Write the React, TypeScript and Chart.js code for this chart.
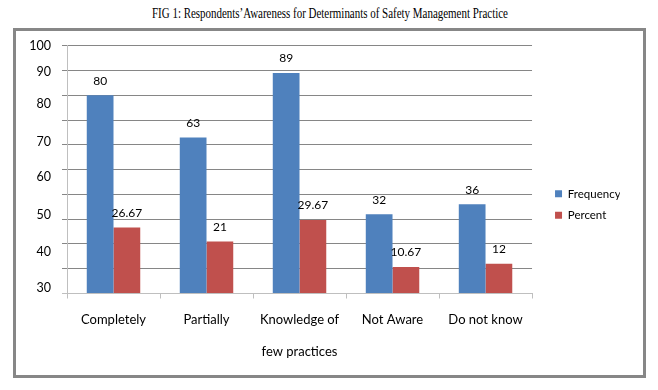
import React, { useEffect, useRef } from 'react';
import { Chart, registerables } from 'chart.js';

Chart.register(...registerables);

const categories: (string | string[])[] = ['Completely', 'Partially', ['Knowledge of', 'few practices'], 'Not Aware', 'Do not know'];
const seriesNames = ['Frequency', 'Percent'];
const frequency = [80, 63, 89, 32, 36];
const percent = [26.67, 21, 29.67, 10.67, 12];
const yTickLabels = ['100', '90', '80', '70', '60', '50', '40', '30'];
const yTickLabelValues = [100, 89.5, 76.5, 61.3, 47.2, 31.7, 16.9, 2.2];
const titleText = 'FIG 1: Respondents\u2019Awareness for Determinants of Safety Management Practice';

const FONT = 'Lato';

const valueLabels = {
  id: 'valueLabels',
  afterDatasetsDraw(chart: any) {
    const ctx = chart.ctx;
    ctx.save();
    ctx.font = `12px ${FONT}`;
    ctx.fillStyle = '#000';
    ctx.textAlign = 'center';
    ctx.textBaseline = 'middle';
    chart.data.datasets.forEach((ds: any, i: number) => {
      const meta = chart.getDatasetMeta(i);
      meta.data.forEach((bar: any, j: number) => {
        ctx.fillText(String(ds.data[j]), bar.x, bar.y - 14.5);
      });
    });
    ctx.restore();
  },
};

export default function App() {
  const ref = useRef<HTMLCanvasElement>(null);

  useEffect(() => {
    if (!ref.current) return;
    const targetRight = 531;
    const spacerW = 13;

    const chart = new Chart(ref.current, {
      type: 'bar',
      data: {
        labels: categories,
        datasets: [
          { label: seriesNames[0], data: frequency, backgroundColor: '#4F81BD', borderWidth: 0, categoryPercentage: 0.575, barPercentage: 1, yAxisID: 'y' },
          { label: seriesNames[1], data: percent, backgroundColor: '#C0504D', borderWidth: 0, categoryPercentage: 0.575, barPercentage: 1, yAxisID: 'y' },
        ],
      },
      options: {
        animation: false,
        responsive: false,
        devicePixelRatio: 1,
        layout: { padding: { left: 22, top: 45.7, bottom: 26.5, right: 30 } },
        plugins: {
          legend: {
            position: 'right',
            labels: { boxWidth: 7, boxHeight: 7, padding: 10, font: { family: FONT, size: 11.5 }, color: '#000' },
          },
          tooltip: { enabled: false },
          title: { display: false },
        },
        scales: {
          x: {
            grid: { display: true, drawOnChartArea: false, drawTicks: true, tickLength: 5, color: '#bfbfbf', offset: true },
            border: { color: '#bfbfbf' },
            ticks: { font: { family: FONT, size: 13, lineHeight: '32px' }, color: '#000', padding: 5.5, maxRotation: 0, autoSkip: false },
            afterFit: (s: any) => { s.height = 70; },
          },
          y: {
            min: 0,
            max: 100,
            weight: 0,
            ticks: { stepSize: 10, display: false },
            grid: { color: (c: any) => (c.tick && c.tick.value === 0 ? '#bfbfbf' : '#868686'), tickLength: 5 },
            border: { color: '#bfbfbf' },
            afterFit: (s: any) => { s.width = 5; },
          },
          yl: {
            type: 'linear',
            position: 'left',
            weight: 1,
            min: 0,
            max: 100,
            grid: { display: false, drawTicks: false },
            border: { display: false },
            ticks: { color: '#000', font: { family: FONT, size: 12.5 }, padding: 11, autoSkip: false, callback: (_v: any, i: number) => yTickLabels[i] },
            afterBuildTicks: (s: any) => { s.ticks = yTickLabelValues.map((v) => ({ value: v })); },
            afterFit: (s: any) => { s.width = 40; },
          },
          spacer: {
            type: 'linear',
            position: 'right',
            weight: 0,
            grid: { display: false, drawTicks: false },
            border: { display: false },
            ticks: { display: false },
            afterFit: (s: any) => { s.width = spacerW; },
          },
        },
      } as any,
      plugins: [valueLabels],
    });
    const lw = chart.legend ? chart.legend.width : 80;
    (chart.options as any).layout.padding.right = 658 - targetRight - spacerW - lw;
    chart.update();
    return () => chart.destroy();
  }, []);

  return (
    <div style={{ position: 'fixed', left: 0, top: 0, width: 658, height: 390, background: '#fff', overflow: 'hidden' }}>
      <div
        style={{
          position: 'absolute', left: 2, top: 6, width: 656, textAlign: 'center',
          fontFamily: '"Liberation Serif", "Times New Roman", serif', fontSize: 14, lineHeight: '16px', color: '#000', whiteSpace: 'nowrap',
          transform: 'scaleX(0.782)', transformOrigin: '328px 50%',
        }}
      >
        {titleText}
      </div>
      <div
        style={{
          position: 'absolute', left: 13, top: 28, width: 633, height: 350, boxSizing: 'border-box', border: '3px solid #878787',
        }}
      />
      <canvas ref={ref} width={658} height={390} style={{ position: 'absolute', left: 0, top: 0, width: 658, height: 390 }} />
    </div>
  );
}
